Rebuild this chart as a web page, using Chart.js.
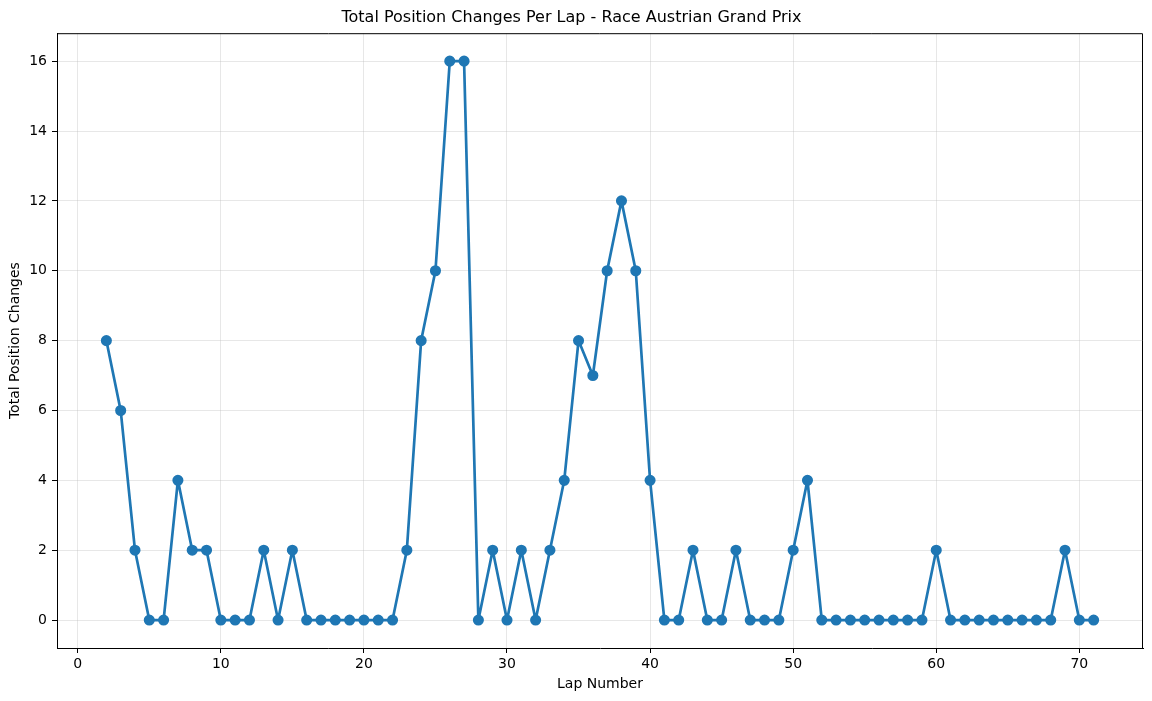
<!DOCTYPE html>
<html lang="en">
<head>
    <meta charset="UTF-8">
    <title>Total Position Changes Per Lap</title>
    <script src="https://cdn.jsdelivr.net/npm/chart.js"></script>
    <style>
        html, body { margin: 0; padding: 0; background: #fff; }
        #wrap { width: 1152px; height: 701px; position: relative; }
    </style>
</head>
<body>
<div id="wrap"><canvas id="lapChart"></canvas></div>
<script>
    // Data
    const laps = [2, 3, 4, 5, 6, 7, 8, 9, 10, 11, 12, 13, 14, 15, 16, 17, 18, 19, 20, 21,
        22, 23, 24, 25, 26, 27, 28, 29, 30, 31, 32, 33, 34, 35, 36, 37, 38, 39, 40, 41,
        42, 43, 44, 45, 46, 47, 48, 49, 50, 51, 52, 53, 54, 55, 56, 57, 58, 59, 60, 61,
        62, 63, 64, 65, 66, 67, 68, 69, 70, 71];
    const positionChanges = [8, 6, 2, 0, 0, 4, 2, 2, 0, 0, 0, 2, 0, 2, 0, 0, 0, 0, 0, 0,
        0, 2, 8, 10, 16, 16, 0, 2, 0, 2, 0, 2, 4, 8, 7, 10, 12, 10, 4, 0,
        0, 2, 0, 0, 2, 0, 0, 0, 2, 4, 0, 0, 0, 0, 0, 0, 0, 0, 2, 0,
        0, 0, 0, 0, 0, 0, 0, 2, 0, 0];
    const xTicks = [0, 10, 20, 30, 40, 50, 60, 70];
    const yTicks = [0, 2, 4, 6, 8, 10, 12, 14, 16];

    const lineColor = '#1f77b4';
    const gridColor = 'rgba(176, 176, 176, 0.3)';

    // top and right spines, the scales draw the other two
    const frame = {
        id: 'frame',
        afterDraw(chart) {
            const a = chart.chartArea;
            const c = chart.ctx;
            c.save();
            c.strokeStyle = '#000';
            c.lineWidth = 1;
            c.beginPath();
            c.moveTo(a.left, a.top + 0.5);
            c.lineTo(a.right - 0.5, a.top + 0.5);
            c.lineTo(a.right - 0.5, a.bottom);
            c.stroke();
            c.restore();
        }
    };

    const ctx = document.getElementById('lapChart').getContext('2d');
    const lapChart = new Chart(ctx, {
        type: 'line',
        data: {
            datasets: [{
                label: 'Total Position Changes',
                data: laps.map((lap, i) => ({ x: lap, y: positionChanges[i] })),
                borderColor: lineColor,
                backgroundColor: lineColor,
                pointBackgroundColor: lineColor,
                pointBorderColor: lineColor,
                borderWidth: 2.7,
                borderJoinStyle: 'round',
                borderCapStyle: 'round',
                pointRadius: 4.2,
                pointHoverRadius: 4.2,
                tension: 0
            }]
        },
        options: {
            responsive: true,
            maintainAspectRatio: false,
            animation: false,
            layout: { padding: { left: 0, right: 9, top: 0, bottom: 0 } },
            plugins: {
                legend: { display: false },
                tooltip: { enabled: false },
                title: {
                    display: true,
                    text: 'Total Position Changes Per Lap - Race Austrian Grand Prix',
                    color: '#000',
                    font: { family: 'DejaVu Sans', size: 16, weight: 'normal' },
                    padding: { top: 8, bottom: 6 }
                }
            },
            scales: {
                x: {
                    type: 'linear',
                    min: -1.45,
                    max: 74.45,
                    afterBuildTicks: scale => { scale.ticks = xTicks.map(v => ({ value: v })); },
                    afterFit: scale => { scale.height = 53; },
                    ticks: {
                        color: '#000',
                        font: { family: 'DejaVu Sans', size: 14 },
                        padding: 3,
                        maxRotation: 0
                    },
                    grid: { color: gridColor, tickColor: '#000', tickLength: 5 },
                    border: { color: '#000' },
                    title: {
                        display: true,
                        text: 'Lap Number',
                        color: '#000',
                        font: { family: 'DejaVu Sans', size: 14 },
                        padding: { top: 0, bottom: 8 }
                    }
                },
                y: {
                    type: 'linear',
                    min: -0.8,
                    max: 16.8,
                    afterBuildTicks: scale => { scale.ticks = yTicks.map(v => ({ value: v })); },
                    afterFit: scale => { scale.width = 57; },
                    ticks: {
                        color: '#000',
                        font: { family: 'DejaVu Sans', size: 14 },
                        padding: 5
                    },
                    grid: { color: gridColor, tickColor: '#000', tickLength: 5 },
                    border: { color: '#000' },
                    title: {
                        display: true,
                        text: 'Total Position Changes',
                        color: '#000',
                        font: { family: 'DejaVu Sans', size: 14 },
                        padding: { top: 7, bottom: 0 }
                    }
                }
            }
        },
        plugins: [frame]
    });
</script>
</body>
</html>
